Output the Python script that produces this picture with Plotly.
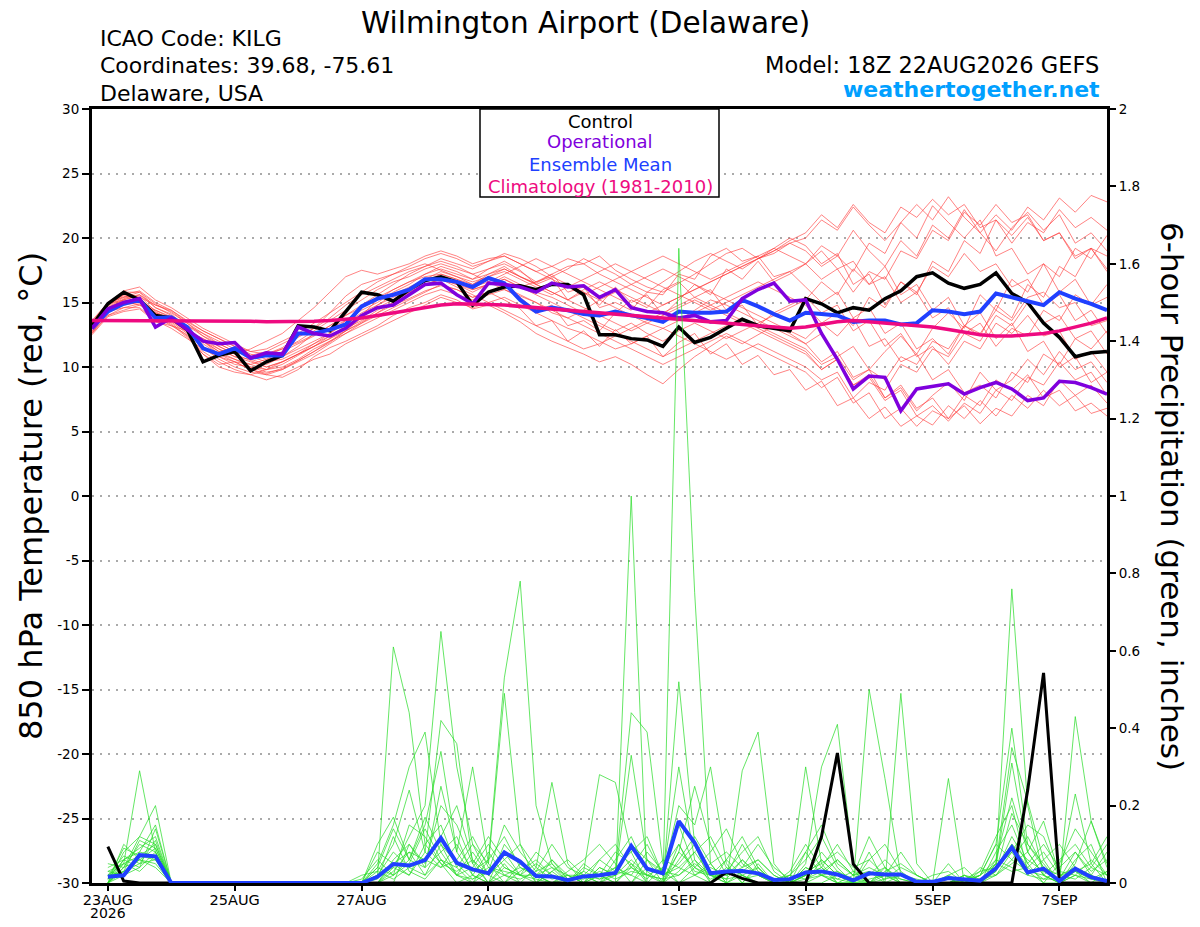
import pandas as pd
import plotly.graph_objects as go

# 6-hourly valid times, model run 18Z 22AUG2026
times = pd.date_range("2026-08-22 18:00", periods=65, freq="6h")
precip_times = times[1:]

# ---- 850 hPa temperature (deg C) ----
control_temp = [13.2, 14.9, 15.8, 15.2, 14.0, 13.8, 12.9, 10.4, 10.9, 11.2, 9.7, 10.4, 10.9,
                13.2, 13.1, 12.8, 14.3, 15.8, 15.6, 15.1, 16.0, 16.7, 17.0, 16.6, 14.8, 15.8,
                16.2, 16.3, 16.0, 16.4, 16.4, 15.6, 12.5, 12.5, 12.2, 12.1, 11.6, 13.1, 11.9,
                12.3, 13.0, 13.7, 13.2, 13.0, 12.8, 15.3, 14.9, 14.2, 14.6, 14.4, 15.3, 15.9,
                17.0, 17.3, 16.5, 16.1, 16.4, 17.3, 15.7, 15.0, 13.4, 12.3, 10.8, 11.1, 11.2]

oper_temp = [13.0, 14.5, 15.0, 15.3, 13.1, 13.8, 12.9, 12.0, 11.8, 11.9, 10.7, 11.1, 11.0,
             13.1, 12.6, 12.4, 13.0, 14.0, 14.6, 14.8, 15.6, 16.4, 16.5, 15.6, 14.9, 16.5,
             16.4, 16.2, 15.8, 16.5, 16.2, 16.3, 15.4, 16.0, 14.6, 14.3, 14.2, 13.8, 14.0,
             13.5, 13.6, 15.3, 16.0, 16.5, 15.1, 15.2, 12.6, 10.6, 8.3, 9.3, 9.2, 6.6,
             8.3, 8.5, 8.7, 7.9, 8.4, 8.8, 8.3, 7.4, 7.6, 8.9, 8.8, 8.4, 7.9]

mean_temp = [13.0, 14.3, 14.9, 15.2, 13.8, 13.85, 13.1, 11.45, 11.0, 11.45, 10.7, 10.9, 10.9,
             12.6, 12.6, 12.9, 13.3, 14.7, 15.3, 15.6, 16.0, 16.8, 16.8, 16.6, 16.2, 16.9,
             16.5, 15.2, 14.3, 14.6, 14.4, 14.1, 14.0, 14.3, 14.0, 13.8, 13.5, 14.3, 14.2,
             14.2, 14.3, 15.2, 14.7, 14.1, 13.6, 14.2, 14.1, 14.0, 13.5, 13.6, 13.6, 13.3,
             13.4, 14.4, 14.3, 14.1, 14.3, 15.7, 15.4, 15.1, 14.8, 15.8, 15.3, 14.9, 14.4]

clim_temp = [13.6, 13.6, 13.6, 13.6, 13.6, 13.6, 13.6, 13.6, 13.6, 13.6, 13.55, 13.5, 13.5,
             13.5, 13.55, 13.6, 13.7, 13.8, 14.0, 14.2, 14.4, 14.6, 14.8, 14.9, 14.9, 14.85,
             14.8, 14.7, 14.6, 14.5, 14.4, 14.3, 14.2, 14.1, 14.0, 13.9, 13.8, 13.7, 13.6,
             13.5, 13.4, 13.3, 13.2, 13.1, 13.0, 13.1, 13.3, 13.5, 13.6, 13.5, 13.4, 13.3,
             13.2, 13.1, 12.9, 12.7, 12.5, 12.4, 12.4, 12.5, 12.6, 12.8, 13.1, 13.4, 13.8]

member_temps = [
    [13.3, 14.6, 15.4, 15.8, 14.6, 14.0, 13.2,
     12.4, 11.8, 11.2, 10.8, 11.0, 11.5, 12.3, 13.0, 14.2,
     15.5, 16.4, 16.8, 17.2, 17.6, 18.0, 17.5, 17.0, 16.4, 17.2, 17.8,
     17.0, 16.5, 17.2, 17.8, 18.0, 18.6, 17.5, 16.8, 16.2, 15.8, 16.5, 17.2, 18.0, 18.8, 19.2, 18.4, 18.8, 19.6,
     20.0, 21.4, 20.6, 22.4, 21.0, 19.8, 21.2, 22.6, 21.4, 23.2, 21.6, 20.4, 21.8, 20.6, 22.4, 21.4, 23.1, 22.0, 23.3, 22.8],
    [12.8, 14.2, 14.8, 15.0, 13.8, 13.5, 12.6,
     11.5, 10.6, 10.0, 9.6, 9.4, 9.8, 10.5, 11.2, 12.0,
     12.8, 13.5, 14.2, 14.8, 15.3, 15.9, 16.3, 16.0, 15.4, 15.8, 15.2,
     14.5, 13.2, 13.6, 12.0, 12.8, 11.6, 12.9, 11.8, 12.4, 10.8, 11.9, 12.6, 11.0, 11.8, 10.2, 10.9, 9.4, 9.8,
     8.2, 8.9, 7.0, 7.6, 6.0, 6.9, 5.4, 6.2, 5.5, 7.0, 6.0, 7.4, 6.2, 7.8, 6.8, 8.2, 7.0, 7.8, 6.4, 6.8],
    [13.0, 14.8, 15.6, 15.2, 14.2, 13.8, 13.0,
     12.0, 11.2, 11.5, 10.6, 10.2, 10.8, 11.6, 12.6, 13.0,
     13.6, 14.4, 15.0, 15.8, 16.4, 17.2, 17.8, 17.4, 16.8, 17.6, 18.2,
     17.5, 16.4, 16.9, 15.2, 15.8, 14.8, 16.2, 15.0, 15.6, 14.0, 15.2, 16.4, 15.6, 17.6, 16.8, 18.2, 16.6, 17.2,
     18.0, 19.4, 18.6, 20.6, 19.0, 17.8, 19.8, 18.6, 21.0, 20.0, 22.2, 20.4, 19.0, 20.8, 22.0, 20.6, 21.8, 19.6, 20.4, 19.0],
    [13.4, 14.9, 15.2, 15.0, 13.9, 13.2, 12.5,
     11.0, 10.2, 10.4, 9.8, 9.4, 9.2, 9.8, 10.8, 11.5,
     12.0, 12.6, 13.2, 14.0, 14.6, 15.0, 15.6, 15.2, 14.5, 14.8, 14.2,
     13.5, 12.6, 12.0, 11.5, 11.0, 10.4, 10.8, 10.2, 9.4, 8.7, 9.8, 10.8, 11.6, 12.4, 11.8, 12.5, 13.2, 12.6,
     11.8, 10.4, 11.2, 9.2, 9.8, 7.6, 8.4, 6.6, 7.8, 8.8, 7.4, 9.6, 8.2, 9.0, 10.6, 9.4, 11.2, 9.8, 10.4, 8.8],
    [12.6, 14.4, 15.0, 15.4, 14.8, 14.3, 13.4,
     12.4, 11.6, 11.0, 10.5, 10.0, 10.4, 11.0, 11.6, 12.2,
     13.0, 14.0, 15.2, 16.0, 16.6, 17.0, 17.2, 16.8, 16.2, 16.6, 16.0,
     15.5, 15.0, 14.2, 13.8, 14.4, 15.2, 14.6, 14.0, 13.4, 13.0, 13.6, 14.4, 15.2, 14.8, 14.2, 13.6, 13.0, 12.4,
     11.8, 12.6, 10.8, 11.6, 9.8, 11.2, 12.4, 11.0, 13.0, 14.2, 13.0, 15.6, 14.4, 16.8, 15.8, 18.0, 17.0, 19.2, 18.4, 20.2],
    [13.1, 14.5, 15.1, 14.8, 14.0, 13.6, 13.2,
     12.6, 12.0, 11.4, 10.9, 11.2, 11.8, 12.4, 13.0, 13.8,
     14.8, 15.6, 16.2, 16.8, 17.4, 17.8, 18.4, 18.0, 17.6, 18.2, 18.8,
     18.4, 17.8, 17.0, 17.6, 18.4, 17.8, 17.2, 16.4, 15.8, 16.6, 17.4, 18.2, 18.8, 18.2, 17.6, 18.4, 19.0, 19.6,
     19.0, 17.8, 18.6, 17.4, 19.6, 18.8, 21.2, 20.0, 22.5, 21.2, 20.0, 21.4, 18.6, 19.2, 17.2, 18.0, 15.8, 16.8, 14.8, 15.4],
    [12.9, 14.3, 14.6, 14.6, 13.6, 13.0, 12.2,
     11.4, 10.8, 10.2, 10.0, 9.8, 10.2, 10.9, 11.6, 12.4,
     13.0, 13.6, 14.4, 15.0, 15.6, 16.4, 16.8, 16.4, 15.8, 16.4, 17.0,
     16.4, 15.8, 15.4, 14.8, 14.2, 13.4, 12.8, 13.4, 12.6, 12.0, 12.8, 13.4, 12.8, 12.2, 12.8, 13.4, 14.0, 14.6,
     15.2, 16.6, 15.6, 17.6, 16.4, 17.8, 15.6, 16.4, 14.4, 15.4, 13.2, 14.2, 12.2, 13.4, 11.2, 12.0, 10.0, 10.8, 8.8, 9.6],
    [13.5, 15.0, 15.9, 16.2, 15.2, 14.6, 13.8,
     13.0, 12.4, 11.8, 11.2, 11.0, 11.4, 12.0, 12.8, 13.6,
     14.4, 15.2, 16.0, 16.6, 17.0, 17.6, 18.0, 17.6, 17.2, 17.6, 18.0,
     17.4, 16.6, 17.2, 15.8, 16.2, 14.6, 15.0, 14.4, 15.8, 15.6, 17.2, 16.8, 18.6, 19.2, 18.2, 18.6, 17.0, 17.4,
     16.2, 15.0, 15.8, 13.8, 14.6, 12.6, 13.4, 11.4, 12.2, 11.0, 13.2, 12.4, 14.8, 13.8, 16.4, 15.4, 17.8, 17.0, 19.2, 18.6],
    [12.7, 14.0, 14.4, 14.8, 14.4, 13.8, 12.9,
     12.0, 11.0, 10.4, 10.2, 10.6, 11.2, 11.8, 12.4, 13.2,
     14.0, 14.6, 15.2, 15.6, 16.0, 16.4, 16.8, 16.2, 15.6, 15.0, 14.4,
     13.8, 13.2, 12.6, 12.0, 11.4, 11.8, 12.4, 13.0, 13.6, 14.2, 14.8, 15.4, 14.8, 14.2, 13.6, 13.0, 12.4, 11.8,
     11.2, 9.8, 10.6, 8.6, 9.4, 7.6, 8.6, 6.8, 7.6, 6.0, 7.0, 5.6, 6.8, 6.2, 7.8, 7.0, 9.0, 7.8, 8.6, 7.2],
    [13.2, 14.6, 15.0, 15.2, 14.2, 13.6, 12.8,
     12.2, 11.6, 11.0, 11.4, 12.0, 12.6, 13.6, 14.6, 15.8,
     17.0, 17.5, 17.2, 17.6, 18.0, 18.6, 19.0, 18.6, 18.0, 18.4, 18.6,
     18.0, 17.4, 17.8, 18.4, 18.0, 17.2, 16.6, 16.0, 15.4, 14.8, 15.4, 16.0, 16.6, 17.2, 17.8, 18.4, 19.2, 20.0,
     19.4, 18.0, 18.8, 16.4, 17.2, 14.8, 16.6, 15.6, 18.2, 17.4, 19.8, 18.8, 21.4, 20.2, 21.6, 19.8, 20.4, 18.6, 19.2, 17.6],
    [13.0, 14.4, 15.2, 15.6, 14.6, 14.1, 13.1,
     11.8, 11.0, 10.6, 10.2, 9.8, 10.0, 10.6, 11.4, 12.0,
     12.6, 13.2, 13.8, 14.4, 15.0, 15.6, 16.0, 15.6, 15.2, 15.6, 16.0,
     15.4, 14.4, 14.8, 13.2, 13.6, 12.8, 14.2, 15.2, 14.6, 16.0, 16.6, 15.4, 16.0, 14.4, 14.8, 13.2, 14.2, 14.8,
     15.4, 14.2, 14.8, 12.8, 13.6, 11.6, 12.6, 10.8, 11.6, 10.2, 12.0, 11.4, 13.4, 12.6, 14.0, 12.4, 12.8, 10.6, 11.2, 9.6],
    [13.3, 14.7, 15.5, 15.0, 14.0, 13.4, 12.4,
     11.2, 10.4, 9.8, 9.4, 9.0, 9.4, 10.0, 10.6, 11.0,
     11.8, 12.4, 13.0, 13.6, 14.2, 14.8, 15.4, 15.0, 14.6, 15.0, 15.4,
     14.8, 14.2, 13.6, 13.0, 12.6, 12.0, 11.4, 11.8, 12.4, 13.0, 12.4, 11.8, 11.2, 10.6, 11.2, 11.8, 11.2, 10.6,
     10.0, 9.0, 9.6, 7.6, 8.8, 8.2, 10.2, 9.6, 11.4, 10.8, 12.6, 12.0, 14.0, 13.2, 15.0, 13.4, 14.0, 12.2, 12.8, 11.0],
    [12.5, 13.9, 14.3, 14.5, 13.5, 13.2, 12.8,
     12.2, 11.4, 10.8, 10.6, 10.9, 11.4, 11.9, 12.5, 13.2,
     14.0, 14.8, 15.6, 16.4, 17.2, 17.8, 18.2, 17.8, 17.2, 16.6, 17.2,
     17.8, 18.4, 17.8, 17.2, 16.6, 16.0, 15.4, 14.8, 14.2, 14.8, 15.4, 16.0, 16.6, 17.2, 17.8, 18.4, 19.0, 19.8,
     20.4, 21.8, 20.8, 22.6, 21.2, 20.4, 22.4, 21.6, 23.0, 21.8, 22.6, 20.8, 21.4, 19.6, 21.2, 20.4, 22.2, 20.8, 21.6, 20.6],
    [13.4, 15.0, 15.4, 15.6, 14.8, 14.4, 13.6,
     12.8, 12.2, 11.6, 11.0, 10.6, 10.8, 11.4, 12.0, 12.6,
     13.4, 14.2, 14.8, 15.4, 16.0, 16.6, 17.0, 16.6, 16.0, 16.4, 16.8,
     16.2, 16.6, 17.0, 16.4, 15.8, 15.2, 15.8, 16.4, 17.0, 17.6, 17.0, 16.4, 15.8, 15.2, 14.6, 14.0, 13.4, 12.8,
     12.2, 13.4, 12.4, 13.8, 11.6, 12.2, 10.4, 11.0, 9.0, 9.8, 8.0, 8.6, 7.6, 9.6, 8.8, 11.0, 10.2, 12.2, 11.4, 12.8],
    [12.8, 14.2, 15.0, 15.2, 14.4, 13.9, 13.0,
     12.0, 11.2, 10.6, 10.0, 9.6, 9.8, 10.4, 11.0, 11.8,
     12.6, 13.4, 14.2, 15.0, 15.8, 16.6, 17.2, 16.8, 16.4, 17.0, 17.6,
     17.0, 16.4, 15.8, 15.2, 16.0, 16.6, 16.0, 15.4, 14.8, 14.2, 13.6, 14.2, 14.8, 15.4, 16.0, 16.6, 16.0, 15.4,
     14.8, 13.4, 14.2, 13.2, 15.4, 14.6, 16.6, 15.8, 17.8, 17.0, 18.8, 17.4, 18.0, 16.2, 16.8, 14.8, 15.6, 13.6, 14.4, 12.6],
    [13.6, 15.0, 15.8, 15.8, 14.9, 14.2, 13.4,
     12.6, 11.8, 11.2, 10.8, 10.4, 10.6, 11.2, 11.8, 12.4,
     13.2, 14.0, 14.6, 15.2, 15.8, 16.4, 16.8, 16.4, 16.0, 16.4, 16.8,
     16.2, 15.6, 15.0, 14.4, 13.8, 13.2, 12.6, 12.0, 11.4, 10.8, 11.4, 12.0, 12.6, 13.2, 13.8, 13.2, 12.6, 12.0,
     11.4, 10.2, 10.8, 9.0, 9.8, 9.0, 10.8, 10.2, 12.0, 11.4, 13.2, 12.6, 14.4, 13.6, 15.4, 15.8, 14.6, 15.0, 13.2, 13.6],
    [12.9, 14.5, 15.3, 15.5, 14.3, 13.6, 12.7,
     11.6, 10.8, 10.4, 9.8, 9.5, 9.9, 10.5, 11.2, 11.9,
     12.8, 13.8, 14.8, 15.6, 16.2, 16.8, 17.4, 17.0, 16.6, 17.0, 17.4,
     16.8, 16.2, 15.6, 16.2, 16.8, 17.4, 18.0, 17.4, 16.8, 16.2, 15.6, 15.0, 14.4, 15.0, 15.6, 16.2, 16.8, 17.4,
     18.0, 19.0, 17.6, 18.2, 16.4, 17.0, 15.0, 15.8, 13.8, 14.6, 12.6, 13.4, 11.6, 13.0, 12.4, 14.4, 13.6, 15.6, 14.8, 16.4],
    [13.1, 14.6, 15.2, 15.1, 14.1, 13.7, 12.9,
     12.0, 11.4, 10.8, 10.4, 10.0, 10.4, 11.0, 11.8, 12.6,
     13.6, 14.6, 15.4, 16.0, 16.6, 17.2, 17.6, 17.2, 16.8, 17.2, 17.6,
     17.0, 16.4, 15.8, 15.2, 14.6, 14.0, 13.4, 12.8, 13.4, 14.0, 14.6, 15.2, 14.6, 14.0, 13.4, 12.8, 12.2, 11.6,
     11.0, 9.8, 10.6, 8.6, 9.2, 7.4, 8.2, 6.2, 7.0, 5.8, 7.2, 6.4, 8.2, 7.4, 9.2, 8.6, 10.4, 9.0, 9.6, 7.8],
    [13.2, 14.8, 15.6, 15.9, 15.0, 14.4, 13.5,
     12.8, 12.2, 11.6, 11.2, 11.4, 12.0, 12.6, 13.4, 14.2,
     15.0, 15.8, 16.6, 17.2, 17.8, 18.4, 18.8, 18.4, 17.8, 18.2, 18.6,
     18.0, 17.4, 16.8, 16.2, 15.6, 16.2, 16.8, 17.4, 18.0, 18.6, 18.0, 17.4, 16.8, 17.4, 18.0, 18.6, 19.2, 18.6,
     18.0, 16.8, 17.6, 15.8, 17.4, 16.8, 19.0, 18.4, 20.6, 19.8, 22.0, 21.0, 22.6, 21.2, 21.8, 19.8, 20.4, 18.4, 19.2, 17.4],
    [12.6, 14.0, 14.6, 14.9, 13.9, 13.3, 12.3,
     11.0, 10.0, 9.6, 9.4, 9.8, 10.4, 11.0, 11.6, 12.2,
     12.8, 13.4, 14.0, 14.6, 15.2, 15.8, 16.4, 16.0, 15.4, 15.8, 16.2,
     15.6, 15.0, 14.4, 13.8, 13.2, 12.6, 12.0, 11.4, 10.8, 10.2, 10.8, 11.4, 12.0, 12.6, 12.0, 11.4, 10.8, 10.2,
     9.6, 8.4, 9.2, 7.2, 8.0, 6.0, 6.8, 5.4, 6.6, 6.0, 7.8, 7.0, 9.0, 8.2, 9.4, 7.6, 8.2, 6.6, 7.2, 6.2],
]

# ---- 6-hour precipitation (inches), valid 00Z 23AUG onward ----
control_precip = [0.094, 0.005, 0, 0, 0, 0, 0, 0, 0, 0, 0, 0, 0, 0, 0, 0, 0, 0, 0, 0, 0, 0,
                  0, 0, 0, 0, 0, 0, 0, 0, 0, 0, 0, 0, 0, 0, 0, 0, 0, 0.028, 0.012, 0, 0, 0, 0,
                  0.12, 0.336, 0.049, 0, 0, 0, 0, 0, 0, 0, 0, 0, 0, 0.24, 0.543, 0, 0, 0, 0]

mean_precip = [0.016, 0.02, 0.072, 0.069, 0, 0, 0, 0, 0, 0, 0, 0, 0, 0, 0, 0, 0, 0.016,
               0.049, 0.045, 0.059, 0.116, 0.052, 0.035, 0.025, 0.079, 0.055, 0.018, 0.017,
               0.007, 0.017, 0.02, 0.026, 0.096, 0.037, 0.025, 0.16, 0.104, 0.025, 0.03, 0.031,
               0.025, 0.008, 0.01, 0.027, 0.03, 0.022, 0.007, 0.025, 0.022, 0.022, 0.003, 0.003,
               0.013, 0.01, 0.006, 0.038, 0.092, 0.027, 0.037, 0.005, 0.037, 0.015, 0.005]

member_precips = [
    [.02, .05, .29, .08, 0, 0, 0, 0, 0, 0, 0, 0, 0, 0, 0, 0,
     0, .02, .61, .44, .10, .05, 0, .02, 0, .05, 0, 0, .03, 0, 0, 0, 0, 1.0, 0, 0, .03, .08, .02, 0, 0, 0,
     0, 0, .05, .30, .41, .05, 0, 0, 0, 0, 0, 0, 0, 0, .05, .76, .20, .02, 0, 0, 0, 0],
    [0, .08, .12, .20, 0, 0, 0, 0, 0, 0, 0, 0, 0, 0, 0, 0,
     0, .05, .15, .30, .39, .10, .02, 0, .06, .53, .78, .20, .05, 0, 0, .02, 0, .05, 0, 0, 1.64, .75, .05, 0, .02, 0,
     0, 0, 0, 0, .02, 0, .08, 0, 0, 0, 0, 0, 0, .02, .10, .40, .10, .05, 0, .03, 0, 0],
    [.04, .06, .09, .12, 0, 0, 0, 0, 0, 0, 0, 0, 0, 0, 0, 0,
     0, 0, .04, .12, .20, .65, .30, .10, .02, 0, .05, .02, 0, 0, .03, .28, .26, .08, 0, 0, .10, .02, 0, .06, .12, .04,
     0, 0, .02, .08, .03, 0, 0, 0, .49, .05, 0, 0, 0, 0, .03, .12, .05, 0, 0, .43, .16, .05],
    [.01, .09, .07, .10, 0, 0, 0, 0, 0, 0, 0, 0, 0, 0, 0, 0,
     0, .03, .10, .24, .08, .42, .36, .05, 0, .02, 0, .04, .26, .05, 0, 0, .03, .44, .39, .05, 0, .04, .02, 0, .29, .39,
     .05, 0, 0, .02, 0, 0, .50, .27, .02, 0, 0, 0, 0, 0, .05, .35, .21, .06, 0, .02, 0, .03],
    [0, .04, .10, .08, 0, 0, 0, 0, 0, 0, 0, 0, 0, 0, 0, 0,
     0, 0, .02, .06, .15, .34, .08, .30, .05, .49, .10, 0, 0, .02, 0, .04, .02, .33, .06, 0, .52, .10, 0, .04, .02, 0,
     0, 0, .30, .05, 0, 0, 0, .04, 0, 0, 0, .27, 0, 0, .04, .31, .08, .16, .02, .23, .05, 0],
    [.03, .02, .08, .15, 0, 0, 0, 0, 0, 0, 0, 0, 0, 0, 0, 0,
     0, .04, .14, .06, .17, .08, .12, .02, 0, .10, .05, .02, 0, 0, .05, .02, 0, 0, .06, .02, .20, .15, .30, .05, 0, .04,
     0, .02, .06, .12, .04, 0, .03, 0, .02, 0, 0, .02, .04, 0, .08, .15, .05, .10, .04, .08, .02, 0],
    [0, .05, .07, .06, 0, 0, 0, 0, 0, 0, 0, 0, 0, 0, 0, 0,
     0, 0, 0, .10, .05, .20, .15, .05, .12, .06, .02, .08, .04, 0, 0, 0, .06, .12, .03, 0, .08, .25, .10, .02, .06, .02,
     0, 0, .02, .04, .10, .03, 0, 0, 0, 0, 0, 0, 0, .03, .12, .20, .03, 0, .05, .14, .08, .02],
    [.02, .07, .05, .11, 0, 0, 0, 0, 0, 0, 0, 0, 0, 0, 0, 0,
     0, .08, .05, .02, .10, .15, .04, 0, .03, .15, .08, .03, .10, .04, .02, 0, 0, .04, .10, .02, .30, .06, 0, .03, .08, .12,
     .03, 0, .04, .02, 0, 0, .06, .10, .03, 0, 0, .05, 0, 0, .02, .06, .12, .04, 0, .05, .16, .04],
    [0, .03, .11, .09, 0, 0, 0, 0, 0, 0, 0, 0, 0, 0, 0, 0,
     0, .02, .08, .04, .06, .12, .20, .06, 0, .04, .02, 0, .06, .02, 0, .06, .03, .02, 0, .04, .15, .04, .08, .14, .05, .02,
     0, .03, .10, .04, 0, .02, .12, .04, 0, 0, 0, 0, .02, 0, .04, .10, .04, .08, .02, .03, .05, .12],
    [.05, .04, .06, .09, 0, 0, 0, 0, 0, 0, 0, 0, 0, 0, 0, 0,
     0, 0, .05, .08, .02, .06, .04, .10, .05, 0, .03, .06, .02, 0, .04, .02, .08, .05, .02, 0, .06, .12, .05, 0, .03, .06,
     .02, 0, 0, .06, .02, 0, 0, .02, .08, .02, 0, 0, 0, .02, .06, .22, .08, .02, 0, .06, .10, 0],
    [.01, .06, .08, .07, 0, 0, 0, 0, 0, 0, 0, 0, 0, 0, 0, 0,
     0, .10, .17, .06, .04, .25, .08, .02, .08, .02, .04, .02, 0, .03, .06, .10, .05, 0, .04, .02, .04, .08, .12, .04, 0, .05,
     0, .02, .08, .15, .05, .02, 0, .03, .05, .02, 0, 0, .02, 0, .04, .08, .15, .12, .02, .04, .02, .08],
    [0, .02, .04, .14, 0, 0, 0, 0, 0, 0, 0, 0, 0, 0, 0, 0,
     .01, .06, .02, .15, .12, .05, .03, .06, .02, .08, .06, 0, .03, .06, .02, 0, .02, .10, .06, .03, 0, .02, .05, .08, .04, .10,
     .04, .01, .03, .05, .08, .04, .06, .02, 0, 0, .02, .03, 0, 0, .06, .04, .02, .06, .10, .04, .02, 0],
    [.02, .03, .05, .06, 0, 0, 0, 0, 0, 0, 0, 0, 0, 0, 0, 0,
     0, .02, .04, .02, .08, .04, .06, .12, .04, .03, .02, .05, .02, 0, 0, .04, .02, .06, .02, .04, .10, .03, .02, .06, .02, 0,
     0, 0, .04, .02, .06, .02, .04, .02, 0, 0, 0, .02, 0, .04, .02, .05, .08, .02, 0, .02, .06, .02],
    [0, .10, .06, .04, 0, 0, 0, 0, 0, 0, 0, 0, 0, 0, 0, 0,
     0, 0, .06, .10, .04, .08, .02, .04, .10, .04, .02, .02, .04, .02, 0, .02, .04, .02, .08, .03, .02, .05, .02, .02, .04, .06,
     .02, 0, .02, .06, .02, .01, .02, .06, .02, 0, 0, .01, 0, .02, .10, .06, .03, .02, .06, .10, .04, .02],
    [.03, .05, .03, .07, 0, 0, 0, 0, 0, 0, 0, 0, 0, 0, 0, 0,
     0, .04, .02, .05, .14, .06, .02, .08, .02, .06, .10, .04, .01, .02, .02, .06, .10, .04, .01, .06, .04, .02, .04, .02, .10, .03,
     .01, .02, .01, .03, .06, .02, .03, .01, .04, .02, 0, 0, .01, .03, .04, .10, .06, .03, .01, .08, .03, .06],
    [0, .04, .12, .10, 0, 0, 0, 0, 0, 0, 0, 0, 0, 0, 0, 0,
     0, 0, .03, .08, .06, .04, .10, .03, .06, .12, .04, .02, .06, .01, .03, .01, .04, .08, .12, .02, .05, .10, .03, .01, .06, .02,
     0, 0, .08, .02, .01, .03, .02, .04, .01, 0, 0, 0, .02, .01, .03, .18, .10, .04, .02, .01, .04, .10],
    [.01, .03, .06, .05, 0, 0, 0, 0, 0, 0, 0, 0, 0, 0, 0, 0,
     .02, .03, .01, .04, .02, .10, .05, .01, .04, .02, .01, .03, .05, .01, .01, .03, .01, .03, .02, .01, .08, .04, .01, .03, .01, .02,
     .01, 0, .02, .04, .01, 0, .01, .02, .01, 0, 0, 0, .01, .02, .05, .03, .04, .01, .03, .02, .01, .03],
    [0, .06, .04, .08, 0, 0, 0, 0, 0, 0, 0, 0, 0, 0, 0, 0,
     0, .01, .12, .03, .01, .06, .02, .01, .03, .08, .02, .01, 0, .01, .02, .01, .02, .04, .02, .01, .02, .06, .02, .01, .02, .04,
     0, 0, .01, .02, .03, .01, 0, .01, .02, .01, 0, 0, 0, .01, .02, .08, .02, .01, .01, .03, .01, 0],
]

assert all(len(m) == len(times) for m in member_temps)
assert all(len(m) == len(precip_times) for m in member_precips)

temp_ticks = [-30, -25, -20, -15, -10, -5, 0, 5, 10, 15, 20, 25, 30]
precip_ticks = [0, 0.2, 0.4, 0.6, 0.8, 1, 1.2, 1.4, 1.6, 1.8, 2]
date_ticks = ["2026-08-23", "2026-08-25", "2026-08-27", "2026-08-29",
              "2026-09-01", "2026-09-03", "2026-09-05", "2026-09-07"]
date_labels = ["23AUG", "25AUG", "27AUG", "29AUG", "1SEP", "3SEP", "5SEP", "7SEP"]

FONT = "DejaVu Sans"
RED = "rgba(255,60,60,0.8)"
GREEN = "rgba(40,220,40,0.9)"
BLUE = "#2040ff"
PURPLE = "#7f00dd"
MAGENTA = "#ee0a80"

fig = go.Figure()

for m in member_temps:
    fig.add_trace(go.Scatter(x=times, y=m, mode="lines", line=dict(color=RED, width=0.8),
                             hoverinfo="skip"))
for m in member_precips:
    fig.add_trace(go.Scatter(x=precip_times, y=m, mode="lines", yaxis="y2",
                             line=dict(color=GREEN, width=0.8), hoverinfo="skip"))

fig.add_trace(go.Scatter(x=precip_times, y=control_precip, mode="lines", yaxis="y2",
                         line=dict(color="black", width=3), name="Control precip"))
fig.add_trace(go.Scatter(x=precip_times, y=mean_precip, mode="lines", yaxis="y2",
                         line=dict(color=BLUE, width=4), name="Mean precip"))
fig.add_trace(go.Scatter(x=times, y=control_temp, mode="lines",
                         line=dict(color="black", width=3.5), name="Control"))
fig.add_trace(go.Scatter(x=times, y=mean_temp, mode="lines",
                         line=dict(color=BLUE, width=4), name="Ensemble Mean"))
fig.add_trace(go.Scatter(x=times, y=oper_temp, mode="lines",
                         line=dict(color=PURPLE, width=3.5), name="Operational"))
fig.add_trace(go.Scatter(x=times, y=clim_temp, mode="lines",
                         line=dict(color=MAGENTA, width=3.5), name="Climatology"))

# plot area in page pixels: x 92..1107, y 109..883
def px(x):
    return (x - 92) / 1015.0

def py(y):
    return (883 - y) / 774.0

def note(text, x, y, size, color="black", xanchor="center", angle=0):
    fig.add_annotation(text=text, x=px(x), y=py(y), xref="paper", yref="paper",
                       showarrow=False, xanchor=xanchor, yanchor="middle", textangle=angle,
                       font=dict(family=FONT, size=size, color=color))

note("Wilmington Airport (Delaware)", 585, 22.5, 29.5)
note("ICAO Code: KILG", 98, 39, 22, xanchor="left")
note("Coordinates: 39.68, -75.61", 98, 66, 22, xanchor="left")
note("Delaware, USA", 98, 93, 22, xanchor="left")
note("Model: 18Z 22AUG2026 GEFS", 1101, 65, 22.5, xanchor="right")
note("<b>weathertogether.net</b>", 1102, 89, 22, color="#00a0ff", xanchor="right")

note("Control", 600, 122, 18)
note("Operational", 600, 142, 18, color=PURPLE)
note("Ensemble Mean", 600, 164, 18, color=BLUE)
note("Climatology (1981-2010)", 600, 186, 18, color=MAGENTA)

note("850 hPa Temperature (red, °C)", 31, 496, 32, angle=-90)
note("6-hour Precipitation (green, inches)", 1172, 496, 31, angle=90)

# year under the first date label
note("2026", 108, 913, 14)

fig.add_shape(type="rect", xref="paper", yref="paper", x0=px(480), x1=px(719),
              y0=py(197), y1=py(109), line=dict(color="black", width=1.5),
              fillcolor="white", layer="above")

fig.update_layout(
    width=1184, height=911,
    margin=dict(l=84, r=85, t=101, b=36, autoexpand=False),
    paper_bgcolor="white", plot_bgcolor="white",
    showlegend=False,
    font=dict(family=FONT, color="black"),
    xaxis=dict(
        type="date", range=["2026-08-22 18:00", "2026-09-07 18:00"],
        tickvals=date_ticks, ticktext=date_labels,
        ticks="outside", ticklen=5, tickwidth=1.5, tickcolor="black",
        tickfont=dict(size=14.5), automargin=False, ticklabelstandoff=-3,
        showgrid=False, showline=True, linewidth=3, linecolor="black", mirror=True,
        zeroline=False,
    ),
    yaxis=dict(
        range=[-30, 30], tickvals=temp_ticks, ticktext=[str(t) for t in temp_ticks],
        ticks="outside", ticklen=7, tickwidth=1.5, tickcolor="black",
        tickfont=dict(size=13.5), automargin=False,
        showgrid=True, gridcolor="#aaaaaa", griddash="2px,6px", gridwidth=1.5,
        showline=True, linewidth=3, linecolor="black", mirror=True, zeroline=False,
    ),
    yaxis2=dict(
        range=[0, 2], overlaying="y", side="right", tickvals=precip_ticks,
        ticks="outside", ticklen=6, tickwidth=1.5, tickcolor="black",
        tickfont=dict(size=13.5), automargin=False,
        showgrid=False, showline=True, linewidth=3, linecolor="black", zeroline=False,
    ),
)

fig.write_html("out.html")
